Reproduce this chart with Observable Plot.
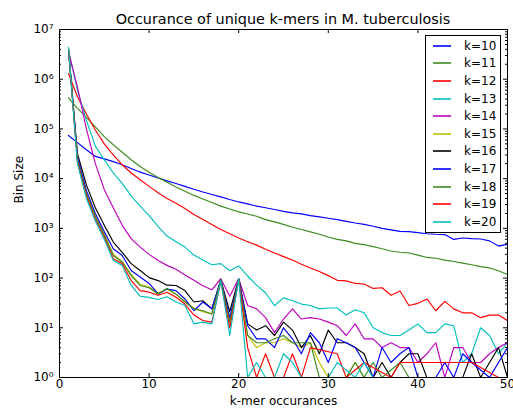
<!DOCTYPE html>
<html>
<head>
<meta charset="utf-8">
<script src="https://cdn.jsdelivr.net/npm/d3@7"></script>
<script src="https://cdn.jsdelivr.net/npm/@observablehq/plot@0.6"></script>
<style>
  body { margin: 0; background: #fff; }
  #wrap { position: relative; width: 513px; height: 408px; font-family: "DejaVu Sans", sans-serif; color: #000; }
  #title { position: absolute; left: 59px; width: 448px; top: 10.6px; text-align: center; font-size: 14.4px; line-height: 1.164; white-space: nowrap; }
  #legend { position: absolute; left: 425px; top: 35px; width: 76px; height: 198px; }
</style>
</head>
<body>
<div id="wrap">
  <div id="chart"></div>
  <div id="title">Occurance of unique k-mers in M. tuberculosis</div>
  <div id="legend"></div>
</div>
<script>
// k-mer occurrence counts (x axis)
const occurrences = [1,2,3,4,5,6,7,8,9,10,11,12,13,14,15,16,17,18,19,20,21,22,23,24,25,26,27,28,29,30,31,32,33,34,35,36,37,38,39,40,41,42,43,44,45,46,47,48,49,50];

// Bin sizes per k (0 = no bin at that occurrence count)
const k10 = [74000,53000,38000,28000,25000,22000,19000,16000,13500,11800,10300,9000,8000,7000,6100,5400,4800,4300,3800,3400,3100,2800,2600,2400,2200,2050,1950,1800,1700,1600,1500,1380,1280,1200,1100,1000,930,870,860,820,780,760,750,600,640,620,610,560,440,480];
const k11 = [420000,260000,170000,110000,70000,48000,34000,24000,17500,13500,10500,8500,6800,5600,4600,3900,3300,2800,2450,2150,1950,1750,1500,1350,1200,1050,950,850,760,670,600,560,500,470,430,390,350,330,320,290,260,250,230,215,200,185,170,160,140,118];
const k12 = [1300000,450000,200000,95000,50000,30000,19000,13000,9500,7000,5200,4000,3200,2500,1900,1500,1200,950,780,640,540,460,380,320,270,230,190,160,135,112,90,88,78,76,62,64,45,55,28,31,38,22,34,24,20,20,16,18,18,14];
const k13 = [3800000,600000,150000,45000,24000,13000,8000,4500,2800,1800,1100,700,540,420,290,230,185,195,140,175,110,72,50,28,40,35,30,28,24,25,25,18,23,20,10,8,7,7,9,12,8,8,12,11,2,3,10,7,3,5];
const k14 = [3600000,700000,100000,20000,6000,2600,1150,620,420,300,225,180,150,115,90,70,58,97,43,97,28,24,16,8,15,24,15,16,15,13,11,7,12,6,6,4,5,4,4,2,3,5,1,4,4,2,2,3,4,5];
const k15 = [3900000,25000,5200,1800,760,300,215,118,75,66,50,60,47,34,25,21,19,90,13,95,7,4,5,5,6,5,4,5,2,1,1,1,2,1,1,1,1,1,0,0,0,0,0,0,0,0,0,0,0,0];
const k16 = [4000000,32000,7500,2600,1150,530,330,195,142,102,89,72,71,56,33,35,24,92,21,97,12,9,11,7,13,9,4,7,3,9,5,5,4,3,1,2,1,2,3,3,1,0,1,0,1,3,1,0,4,1];
const k17 = [4100000,27000,5800,2000,850,390,285,142,105,78,48,60,56,38,22,33,24,90,16,95,11,6,6,4,10,6,3,8,5,2,6,5,4,2,1,4,2,3,4,1,0,1,2,1,3,2,0,1,0,4];
const k18 = [4200000,24000,5000,1700,720,285,208,112,71,64,48,62,48,33,24,22,19,92,13,96,7,5,5,6,7,5,5,5,1,0,0,1,2,1,2,1,0,2,1,0,0,0,0,1,0,0,1,0,0,0];
const k19 = [4300000,22000,4500,1500,650,245,195,89,56,52,45,52,41,30,18,14,13,85,10,93,4,1,3,1,1,3,1,4,0,0,3,1,0,2,0,0,1,2,0,0,0,0,0,0,0,2,0,0,1,0];
const k20 = [4400000,20000,4000,1400,600,225,180,71,43,41,37,42,33,28,12,13,12,88,7,97,1,2,1,1,3,2,1,1,0,1,2,0,1,2,1,0,0,0,0,1,0,0,0,1,0,0,0,0,0,0];

const seriesNames = ["k=10","k=11","k=12","k=13","k=14","k=15","k=16","k=17","k=18","k=19","k=20"];
const seriesValues = [k10,k11,k12,k13,k14,k15,k16,k17,k18,k19,k20];
const seriesColors = ["#0000ff","#3d8a1f","#ff0000","#00bfbf","#bf00bf","#bfbf00","#000000","#0000ff","#3d8a1f","#ff0000","#00bfbf"];

// Axis ticks
const xTicks = [0,10,20,30,40,50];
const yMajor = [1,10,100,1000,10000,100000,1000000,10000000];
const yMinor = [];
for (let d = 0; d < 7; d++) for (let m = 2; m <= 9; m++) yMinor.push(m * Math.pow(10, d));

const W = 513, H = 408, mL = 59, mR = 6, mT = 29, mB = 31;
const pw = W - mL - mR, ph = H - mT - mB;

const sup = {"0":"⁰","1":"¹","2":"²","3":"³","4":"⁴","5":"⁵","6":"⁶","7":"⁷","8":"⁸","9":"⁹"};
const fmtY = d => "10" + String(Math.round(Math.log10(d))).split("").map(c => sup[c]).join("");

const lineMarks = seriesValues.map((vals, i) => {
  const pts = occurrences.map((x, j) => ({x, y: vals[j]})).filter(p => p.y > 0);
  return Plot.line(pts, {x: "x", y: "y", stroke: seriesColors[i], strokeWidth: 1.15, clip: true});
});

const chart = Plot.plot({
  width: W, height: H,
  marginLeft: mL, marginRight: mR, marginTop: mT, marginBottom: mB,
  style: {fontFamily: "DejaVu Sans", fontSize: "12px", background: "white", color: "black", overflow: "visible"},
  x: {domain: [0, 50]},
  y: {type: "log", domain: [1, 1e7]},
  marks: [
    ...lineMarks,
    Plot.frame({stroke: "black", strokeWidth: 1}),
    Plot.ruleX(xTicks, {x: d => d, insetTop: ph - 4, stroke: "black"}),
    Plot.ruleX(xTicks, {x: d => d, insetBottom: ph - 4, stroke: "black"}),
    Plot.ruleY(yMajor, {y: d => d, insetRight: pw - 4, stroke: "black"}),
    Plot.ruleY(yMajor, {y: d => d, insetLeft: pw - 4, stroke: "black"}),
    Plot.ruleY(yMinor, {y: d => d, insetRight: pw - 2, stroke: "black"}),
    Plot.ruleY(yMinor, {y: d => d, insetLeft: pw - 2, stroke: "black"}),
    Plot.axisX({ticks: xTicks, tickSize: 0, tickPadding: 2, label: null, fontSize: 12}),
    Plot.axisY({ticks: yMajor, tickSize: 0, tickPadding: 6, tickFormat: fmtY, label: null, fontSize: 12}),
    Plot.text(["k-mer occurances"], {text: d => d, frameAnchor: "bottom", lineAnchor: "middle", dy: 24, fontSize: 12}),
    Plot.text(["Bin Size"], {text: d => d, frameAnchor: "left", lineAnchor: "middle", dx: -40, rotate: -90, fontSize: 12})
  ]
});
document.getElementById("chart").appendChild(chart);

// Legend (inline SVG box)
const ns = "http://www.w3.org/2000/svg";
const lsvg = document.createElementNS(ns, "svg");
lsvg.setAttribute("width", 76);
lsvg.setAttribute("height", 198);
lsvg.setAttribute("font-family", "DejaVu Sans");
lsvg.setAttribute("font-size", 12);
const box = document.createElementNS(ns, "rect");
box.setAttribute("x", 0.5); box.setAttribute("y", 0.5);
box.setAttribute("width", 75); box.setAttribute("height", 197);
box.setAttribute("fill", "white"); box.setAttribute("stroke", "black");
lsvg.appendChild(box);
seriesNames.forEach((name, i) => {
  const cy = Math.round(10.7 + 17.6 * i);
  const ln = document.createElementNS(ns, "line");
  ln.setAttribute("x1", 8); ln.setAttribute("x2", 26);
  ln.setAttribute("y1", cy); ln.setAttribute("y2", cy);
  ln.setAttribute("stroke", seriesColors[i]);
  ln.setAttribute("stroke-width", 1.6);
  lsvg.appendChild(ln);
  const tx = document.createElementNS(ns, "text");
  tx.setAttribute("x", 39); tx.setAttribute("y", cy);
  tx.setAttribute("dy", "0.36em");
  tx.textContent = name;
  lsvg.appendChild(tx);
});
document.getElementById("legend").appendChild(lsvg);
</script>
</body>
</html>
